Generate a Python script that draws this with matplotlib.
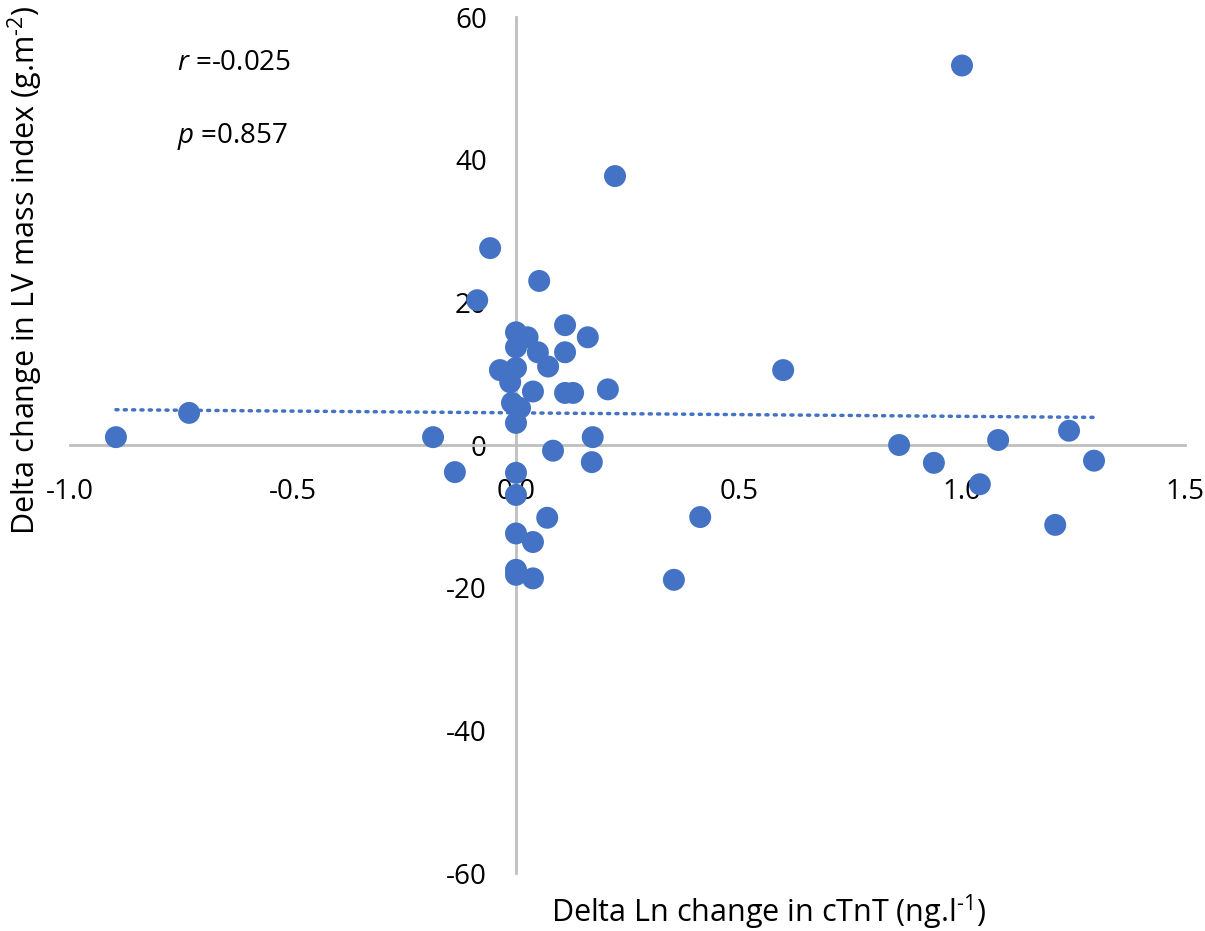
import matplotlib
matplotlib.use('Agg')
import matplotlib.pyplot as plt
import numpy as np

plt.rcParams['font.family'] = ['Open Sans', 'DejaVu Sans']
plt.rcParams['axes.unicode_minus'] = False
plt.rcParams['mathtext.fontset'] = 'custom'
plt.rcParams['mathtext.rm'] = 'Open Sans'
plt.rcParams['mathtext.it'] = 'Open Sans:italic'

# delta ln change in cTnT vs delta change in LV mass index
x_vals = [-0.897, -0.733, -0.186, -0.137, -0.058, -0.087, 1.0, 0.222, 0.052,
          0.0, 0.026, 0.11, 0.161, 0.0, 0.049, 0.11, -0.036, 0.0, 0.072,
          0.038, -0.013, 0.11, 0.128, 0.206, -0.009, 0.009, 0.0, 0.599,
          0.083, 0.172, 0.17, 0.0, 0.0, 0.07, 0.0, 0.038, 0.0, 0.0, 0.038,
          0.354, 0.413, 0.859, 0.937, 1.04, 1.081, 1.209, 1.24, 1.296]
y_vals = [1.1, 4.5, 1.1, -3.8, 27.6, 20.3, 53.2, 37.7, 23.0,
          15.8, 15.1, 16.8, 15.1, 13.7, 13.0, 13.0, 10.5, 10.8, 11.0,
          7.5, 8.8, 7.3, 7.3, 7.8, 5.9, 5.2, 3.1, 10.5,
          -0.8, 1.1, -2.4, -3.9, -7.0, -10.2, -12.4, -13.6, -17.5, -18.2, -18.7,
          -18.9, -10.1, 0.0, -2.5, -5.5, 0.7, -11.2, 2.0, -2.2]
x_ticks = [-1.0, -0.5, 0.0, 0.5, 1.0, 1.5]
y_ticks = [-60, -40, -20, 0, 20, 40, 60]
r_text = '-0.025'
p_text = '0.857'

blue = '#4472C4'
grey = '#BFBFBF'

fig = plt.figure(figsize=(12.05, 9.31), dpi=100)
ax = fig.add_axes([70 / 1205, 1 - 873 / 931, 1115 / 1205, 856 / 931])

ax.scatter(x_vals, y_vals, s=250, color=blue, edgecolors='none', zorder=3)

# linear trendline
slope, icpt = np.polyfit(x_vals, y_vals, 1)
tx = np.array([min(x_vals), max(x_vals)])
ax.plot(tx, slope * tx + icpt, color=blue, lw=2.5, ls=(0, (0.6, 1.8)),
        dash_capstyle='round', zorder=2)

ax.set_xlim(-1.0, 1.5)
ax.set_ylim(-60, 60)
ax.set_xticks(x_ticks)
ax.set_xticklabels([f'{v:.1f}' for v in x_ticks])
ax.set_yticks(y_ticks)
ax.set_yticklabels([str(v) for v in y_ticks])

for side in ['top', 'right']:
    ax.spines[side].set_visible(False)
ax.spines['left'].set_position(('data', 0))
ax.spines['bottom'].set_position(('data', 0))
for side in ['left', 'bottom']:
    ax.spines[side].set_color(grey)
    ax.spines[side].set_linewidth(2)
ax.tick_params(axis='both', length=0, labelsize=20)
ax.tick_params(axis='x', pad=24)
ax.tick_params(axis='y', pad=21)

ax.text(0.096, 0.946, '$\\it{r}$ =' + r_text, transform=ax.transAxes, fontsize=20,
        va='center')
ax.text(0.096, 0.86, '$\\it{p}$ =' + p_text, transform=ax.transAxes, fontsize=20,
        va='center')

fig.text(25 / 1205, 1 - 270 / 931, 'Delta change in LV mass index (g.m$^{\\text{-}2}$)',
         rotation=90, ha='center', va='center', fontsize=22)
fig.text(768 / 1205, 1 - 912 / 931, 'Delta Ln change in cTnT (ng.l$^{\\text{-}1}$)',
         ha='center', va='center', fontsize=22)

fig.savefig('out.png', dpi=100)
